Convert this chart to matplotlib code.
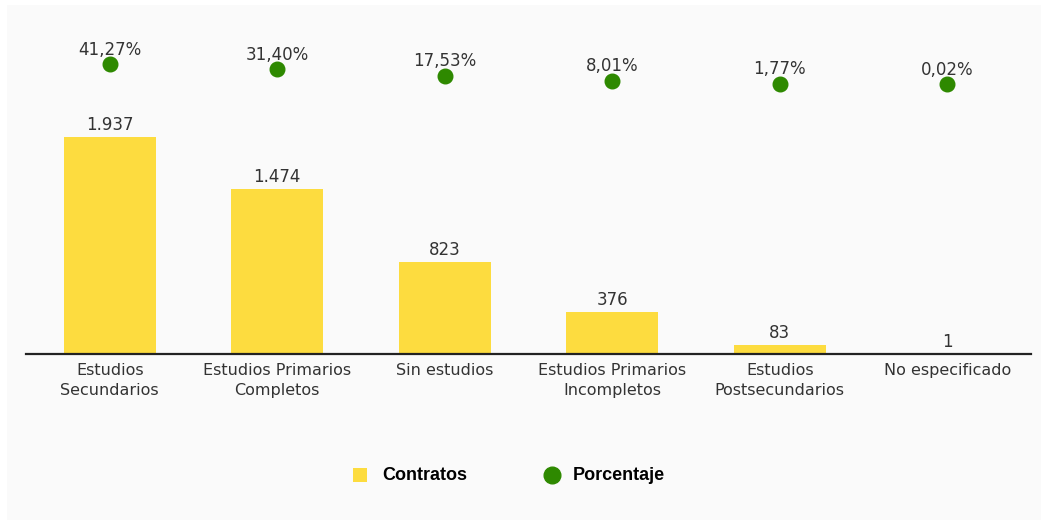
import matplotlib
matplotlib.use("Agg")
import matplotlib.pyplot as plt
from matplotlib.patches import Rectangle

categories = ["Estudios\nSecundarios", "Estudios Primarios\nCompletos", "Sin estudios",
              "Estudios Primarios\nIncompletos", "Estudios\nPostsecundarios", "No especificado"]
contratos = [1937, 1474, 823, 376, 83, 1]
contratos_labels = ["1.937", "1.474", "823", "376", "83", "1"]
porcentaje = [41.27, 31.40, 17.53, 8.01, 1.77, 0.02]
porcentaje_labels = ["41,27%", "31,40%", "17,53%", "8,01%", "1,77%", "0,02%"]

YELLOW = "#FDDC3F"
GREEN = "#2E8900"
TXT = "#333333"

W, H = 1048, 526
fig = plt.figure(figsize=(W / 100, H / 100), dpi=100)
fig.patch.set_facecolor("white")

# background overlay in pixel coords
bg = fig.add_axes([0, 0, 1, 1], zorder=0)
bg.set_xlim(0, W)
bg.set_ylim(H, 0)
bg.axis("off")
bg.add_patch(Rectangle((7, 5), 1034, 515, facecolor="#FAFAFA", edgecolor="none"))

# main axes: x from 26 to 1031 px, y from 20 to 354 px
x0, x1, ytop, ybot = 26, 1031, 20, 354
ax = fig.add_axes([x0 / W, (H - ybot) / H, (x1 - x0) / W, (ybot - ytop) / H], zorder=2)
ax.patch.set_alpha(0)
px_per_unit = 217 / 1937.0
ax.set_ylim(0, (ybot - ytop) / px_per_unit)
ax.set_xlim(-0.5, len(categories) - 0.5)

xs = list(range(len(categories)))
ax.bar(xs, contratos, width=0.55, color=YELLOW, zorder=2)
for x, v, lab in zip(xs, contratos, contratos_labels):
    ax.annotate(lab, (x, v), xytext=(0, 5), textcoords="offset points",
                ha="center", va="baseline", fontsize=12, color=TXT,
                fontfamily="DejaVu Sans")

for s in ["top", "left", "right"]:
    ax.spines[s].set_visible(False)
ax.spines["bottom"].set_color("#222222")
ax.spines["bottom"].set_linewidth(1.6)
ax.spines["bottom"].set_zorder(3)
ax.set_yticks([])
ax.set_xticks(xs)
ax.set_xticklabels(categories, fontsize=11.5, color=TXT, fontfamily="DejaVu Sans",
                   linespacing=1.4)
ax.tick_params(axis="x", length=0, pad=6.5)

# secondary axis for percentages
ax2 = ax.twinx()
ax2.patch.set_alpha(0)
p_px = 0.485
p0 = 84.5
ax2.set_ylim((p0 - ybot) / p_px, (p0 - ytop) / p_px)
ax2.plot(xs, porcentaje, linestyle="none", marker="o", markersize=10.5,
         color=GREEN, zorder=3)
for x, v, lab in zip(xs, porcentaje, porcentaje_labels):
    ax2.annotate(lab, (x, v), xytext=(0, 7), textcoords="offset points",
                 ha="center", va="baseline", fontsize=12, color=TXT,
                 fontfamily="DejaVu Sans")
ax2.set_yticks([])
for s in ax2.spines.values():
    s.set_visible(False)

# legend (pixel coordinates)
bg.add_patch(Rectangle((353, 468), 14, 14, facecolor=YELLOW, edgecolor="none"))
bg.text(382, 475, "Contratos", fontsize=13, fontweight="bold",
        fontfamily="Liberation Sans", color="black", va="center", ha="left")
bg.plot([551.5], [474.5], marker="o", markersize=12, color=GREEN, linestyle="none")
bg.text(573, 475, "Porcentaje", fontsize=13, fontweight="bold",
        fontfamily="Liberation Sans", color="black", va="center", ha="left")

fig.savefig("out.png", dpi=100, facecolor=fig.get_facecolor())
